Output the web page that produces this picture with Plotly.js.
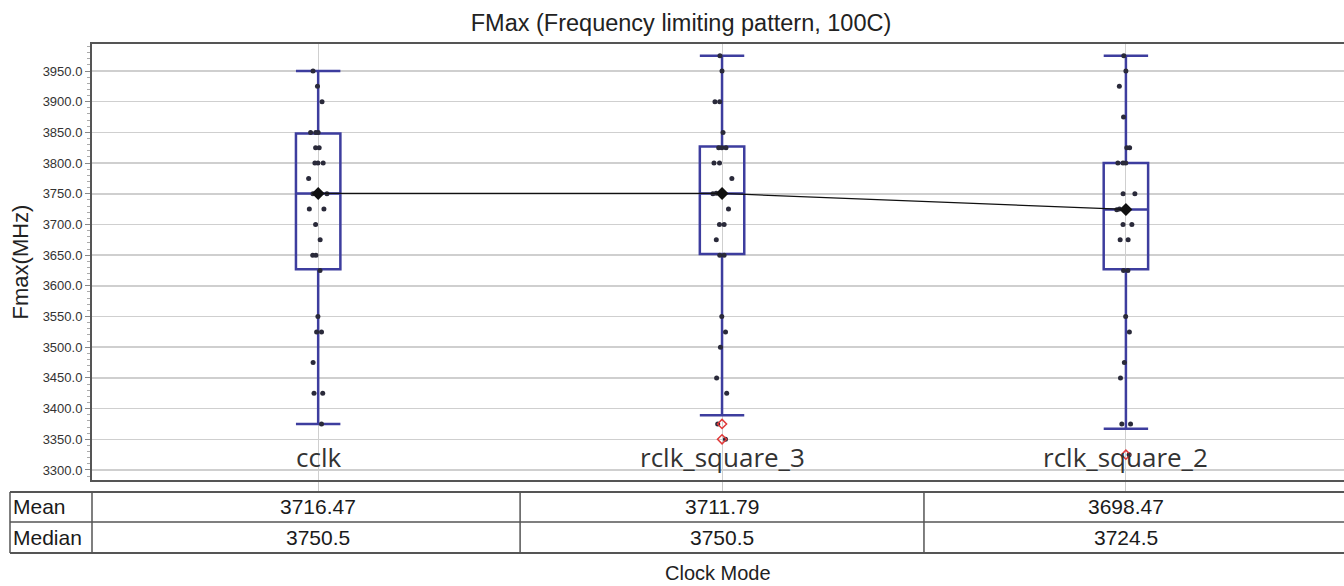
<!DOCTYPE html>
<html>
<head>
<meta charset="utf-8">
<script src="https://cdn.plot.ly/plotly-3.0.1.min.js"></script>
<style>html,body{margin:0;padding:0;background:#fff;}#chart{width:1344px;height:586px;}</style>
</head>
<body>
<div id="chart"></div>
<script>
// ---- data ----
const categories = ['cclk', 'rclk_square_3', 'rclk_square_2'];
const cclkValues = [3950, 3925, 3900, 3850, 3850, 3850, 3825, 3825, 3800, 3800, 3800, 3775, 3751, 3750, 3750, 3725, 3725, 3700, 3675, 3650, 3650, 3625, 3550, 3525, 3525, 3475, 3425, 3425, 3375];
const rclkSquare3Values = [3975, 3950, 3900, 3900, 3850, 3825, 3825, 3825, 3800, 3800, 3775, 3751, 3750, 3725, 3700, 3700, 3675, 3650, 3650, 3550, 3525, 3500, 3450, 3425, 3375, 3350];
const rclkSquare2Values = [3975, 3950, 3925, 3875, 3825, 3825, 3800, 3800, 3800, 3750, 3750, 3725, 3724, 3700, 3700, 3675, 3675, 3625, 3625, 3550, 3525, 3475, 3450, 3375, 3375, 3325];
const q1 = [3627, 3652, 3627];
const q3 = [3848, 3827, 3800];
const lowerWhisker = [3375, 3389, 3367];
const upperWhisker = [3950, 3975, 3975];
const medians = [3750.5, 3750.5, 3724.5];
const means = [3716.47, 3711.79, 3698.47];
const outlierCats = ['rclk_square_3', 'rclk_square_3', 'rclk_square_2'];
const outlierValues = [3375, 3350, 3325];
const tableRowLabels = ['Mean', 'Median'];

// ---- traces ----
const boxColor = '#3d3d9e';
const BOXW = 0.11;
const seriesValues = [cclkValues, rclkSquare3Values, rclkSquare2Values];
const FONT = 'Liberation Sans, Arial, sans-serif';

const traces = [];
traces.push({
  type: 'box', x: categories, q1: q1, median: medians, q3: q3,
  lowerfence: lowerWhisker, upperfence: upperWhisker,
  boxpoints: false, width: BOXW, whiskerwidth: 1,
  line: {color: boxColor, width: 2.5}, fillcolor: 'rgba(0,0,0,0)',
  hoverinfo: 'skip', showlegend: false
});
seriesValues.forEach((vals, i) => {
  traces.push({
    type: 'box', y: vals, x: vals.map(() => categories[i]),
    boxpoints: 'all', jitter: 0.5, pointpos: 0, width: BOXW,
    line: {color: 'rgba(0,0,0,0)', width: 0}, fillcolor: 'rgba(0,0,0,0)',
    marker: {color: '#2a2a3a', size: 5},
    hoverinfo: 'y', showlegend: false
  });
});
traces.push({
  type: 'scatter', mode: 'lines+markers', x: categories, y: medians,
  line: {color: '#111', width: 1.2},
  marker: {symbol: 'diamond', size: 10, color: '#111'},
  showlegend: false
});
traces.push({
  type: 'scatter', mode: 'markers', x: outlierCats, y: outlierValues,
  marker: {symbol: 'diamond-open', size: 7, color: '#e03a3a', line: {width: 1.5}},
  showlegend: false
});

// ---- table (shapes + annotations) ----
const plotH = 436;
const yTop = -12 / plotH, yMid = -42 / plotH, yBot = -73 / plotH;
const xLeft = -82 / 1252;
const lineStyle = {color: '#555', width: 1.5};
const shapes = [
  {type: 'line', xref: 'paper', yref: 'paper', x0: xLeft, x1: 1, y0: yTop, y1: yTop, line: {color: '#555', width: 2}},
  {type: 'line', xref: 'paper', yref: 'paper', x0: xLeft, x1: 1, y0: yMid, y1: yMid, line: lineStyle},
  {type: 'line', xref: 'paper', yref: 'paper', x0: xLeft, x1: 1, y0: yBot, y1: yBot, line: {color: '#555', width: 2}},
  {type: 'line', xref: 'paper', yref: 'paper', x0: xLeft, x1: xLeft, y0: yTop, y1: yBot, line: lineStyle},
  {type: 'line', xref: 'paper', yref: 'paper', x0: 0, x1: 0, y0: yTop, y1: yBot, line: lineStyle},
  {type: 'line', xref: 'x', yref: 'paper', x0: 0.5, x1: 0.5, y0: yTop, y1: yBot, line: lineStyle},
  {type: 'line', xref: 'x', yref: 'paper', x0: 1.5, x1: 1.5, y0: yTop, y1: yBot, line: lineStyle}
];
const cellFont = {family: FONT, size: 21, color: '#1a1a1a'};
const annotations = [];
const rowCenters = [(yTop + yMid) / 2, (yMid + yBot) / 2];
tableRowLabels.forEach((lab, r) => {
  annotations.push({xref: 'paper', yref: 'paper', x: xLeft + 1 / 1252, y: rowCenters[r], text: lab,
    showarrow: false, xanchor: 'left', yanchor: 'middle', font: cellFont});
});
categories.forEach((c, i) => {
  annotations.push({xref: 'x', yref: 'paper', x: i, y: rowCenters[0], text: means[i].toFixed(2),
    showarrow: false, xanchor: 'center', yanchor: 'middle', font: cellFont});
  annotations.push({xref: 'x', yref: 'paper', x: i, y: rowCenters[1], text: String(medians[i]),
    showarrow: false, xanchor: 'center', yanchor: 'middle', font: cellFont});
  // category labels drawn inside the plot, near the bottom
  annotations.push({xref: 'x', yref: 'paper', x: i, y: 23 / plotH, text: c,
    showarrow: false, xanchor: 'center', yanchor: 'middle',
    font: {family: 'Open Sans, sans-serif', size: 26, color: '#333'}});
});
annotations.push({xref: 'paper', yref: 'paper', x: 0.5, y: -105 / plotH, text: 'Clock Mode',
  showarrow: false, xanchor: 'center', yanchor: 'bottom', borderpad: 0,
  font: {family: FONT, size: 20, color: '#222'}});

const layout = {
  width: 1344, height: 586,
  margin: {l: 92, r: 0, t: 44, b: 106, pad: 0},
  paper_bgcolor: '#fff', plot_bgcolor: '#fff',
  boxmode: 'overlay',
  title: {text: 'FMax (Frequency limiting pattern, 100C)', xref: 'container', x: 681 / 1344,
    xanchor: 'center', yref: 'container', y: 1 - 23 / 586, yanchor: 'middle',
    font: {family: FONT, size: 23.5, color: '#222'}},
  xaxis: {
    type: 'category', categoryarray: categories, range: [-0.56, 2.54],
    showgrid: true, gridcolor: '#cfcfcf', gridwidth: 1,
    ticks: 'outside', ticklen: 9, tickcolor: '#c8c8c8', showticklabels: false,
    showline: true, linecolor: '#555', linewidth: 2, mirror: true, zeroline: false,
    fixedrange: true
  },
  yaxis: {
    range: [3283.7, 3994], dtick: 50, tick0: 3300, tickformat: '.1f',
    ticks: 'outside', ticklen: 5, tickcolor: '#888',
    minor: {dtick: 10, ticks: 'outside', ticklen: 3, tickcolor: '#aaa', showgrid: false},
    showgrid: true, gridcolor: '#cfcfcf', gridwidth: 1.5,
    tickfont: {family: FONT, size: 13, color: '#333'},
    showline: true, linecolor: '#555', linewidth: 2, mirror: true, zeroline: false,
    title: {text: 'Fmax(MHz)', standoff: 8, font: {family: FONT, size: 22, color: '#222'}},
    fixedrange: true
  },
  shapes: shapes,
  annotations: annotations,
  showlegend: false
};

Plotly.newPlot('chart', traces, layout, {displayModeBar: false, staticPlot: true});
</script>
</body>
</html>
